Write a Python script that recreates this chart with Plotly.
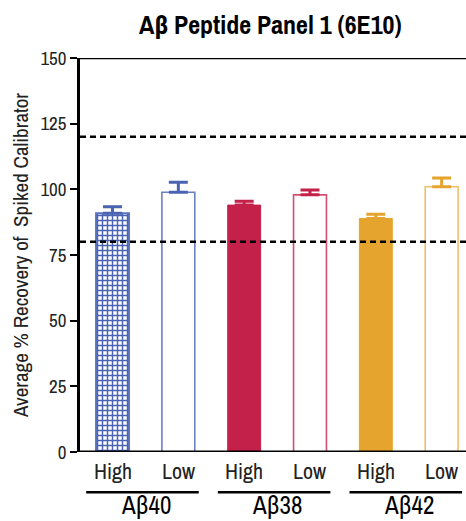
import plotly.graph_objects as go

# Recovery data: one High and one Low spike level per peptide
peptides = ["Aβ40", "Aβ38", "Aβ42"]
levels = ["High", "Low"]
recovery = [90.9, 98.9, 94.0, 97.9, 88.9, 101.0]
recovery_sd = [2.5, 3.8, 1.5, 1.8, 1.6, 3.3]
acceptance_limits = [80, 120]
y_ticks = [0, 25, 50, 75, 100, 125, 150]

blue, red, orange = "#4a63b3", "#c4214a", "#e5a42d"
FONT = "Archivo Narrow, Roboto Condensed, DejaVu Sans Condensed, sans-serif"

x_pos = list(range(len(recovery)))
base_colors = [blue, blue, red, red, orange, orange]
fills = ["white", "white", red, "white", orange, "white"]
outline = ["#5a72bd", "#6c80c4", red, "#d3506f", orange, "#f0c06a"]
outline_w = [2, 1.6, 1, 1.6, 1, 1.6]
patterned = [True, False, False, False, False, False]

fig = go.Figure()
for i in x_pos:
    marker = dict(color=fills[i], line=dict(color=outline[i], width=outline_w[i]))
    if patterned[i]:
        # gingham fill for the first High bar
        marker["pattern"] = dict(shape="+", fgcolor=blue, bgcolor="white",
                                 fgopacity=1, size=5, solidity=0.5, fillmode="replace")
    fig.add_trace(
        go.Bar(
            x=[x_pos[i]],
            y=[recovery[i]],
            width=0.5,
            marker=marker,
            error_y=dict(
                type="data",
                symmetric=False,
                array=[recovery_sd[i]],
                arrayminus=[0],
                color=base_colors[i],
                thickness=3,
                width=9.5,
            ),
            showlegend=False,
            hoverinfo="skip",
        )
    )

shapes = []
# acceptance limits
for lim in acceptance_limits:
    shapes.append(
        dict(type="line", xref="paper", x0=0, x1=1, yref="y", y0=lim, y1=lim,
             line=dict(color="black", width=2.5, dash="6px,4px"), layer="above")
    )
# top frame line and baseline
shapes.append(
    dict(type="line", xref="paper", x0=0, x1=1, yref="y", y0=150, y1=150,
         line=dict(color="black", width=2.5))
)
shapes.append(
    dict(type="line", xref="paper", x0=0, x1=1, yref="y", y0=0, y1=0,
         line=dict(color="black", width=3))
)

annotations = []
for i in x_pos:
    annotations.append(
        dict(x=i, xref="x", y=0, yref="paper", yanchor="middle", yshift=-19,
             text=levels[i % 2], showarrow=False,
             font=dict(family=FONT, size=22, color="#222"))
    )
for g, name in enumerate(peptides):
    start = 2 * g - 0.4
    end = 2 * g + 1.31
    shapes.append(
        dict(type="line", xref="x", x0=start, x1=end, yref="paper", y0=-0.102, y1=-0.102,
             line=dict(color="black", width=2.5))
    )
    annotations.append(
        dict(x=(start + end) / 2 + 0.05, xref="x", y=0, yref="paper", yanchor="middle",
             yshift=-53, text=name, showarrow=False,
             font=dict(family=FONT, size=25, color="black"))
    )

fig.update_layout(
    width=466,
    height=521,
    margin=dict(l=80, r=0, t=58, b=69),
    paper_bgcolor="white",
    plot_bgcolor="white",
    barmode="overlay",
    title=dict(
        text="<b>Aβ Peptide Panel 1 (6E10)</b>",
        x=0.58,
        xanchor="center",
        y=0.952,
        yanchor="middle",
        font=dict(family=FONT, size=26, color="black"),
    ),
    xaxis=dict(
        range=[-0.494, 5.37],
        showticklabels=False,
        ticks="",
        showgrid=False,
        zeroline=False,
        showline=False,
    ),
    yaxis=dict(
        range=[0, 150],
        tickvals=y_ticks,
        ticks="outside",
        ticklen=7,
        tickwidth=2,
        tickcolor="black",
        showline=True,
        linecolor="black",
        linewidth=2.5,
        showgrid=False,
        zeroline=False,
        tickfont=dict(family=FONT, size=19, color="#222"),
        title=dict(
            text="Average % Recovery of  Spiked Calibrator",
            font=dict(family=FONT, size=21, color="#222"),
            standoff=7,
        ),
    ),
    shapes=shapes,
    annotations=annotations,
)

fig.write_html("out.html")
